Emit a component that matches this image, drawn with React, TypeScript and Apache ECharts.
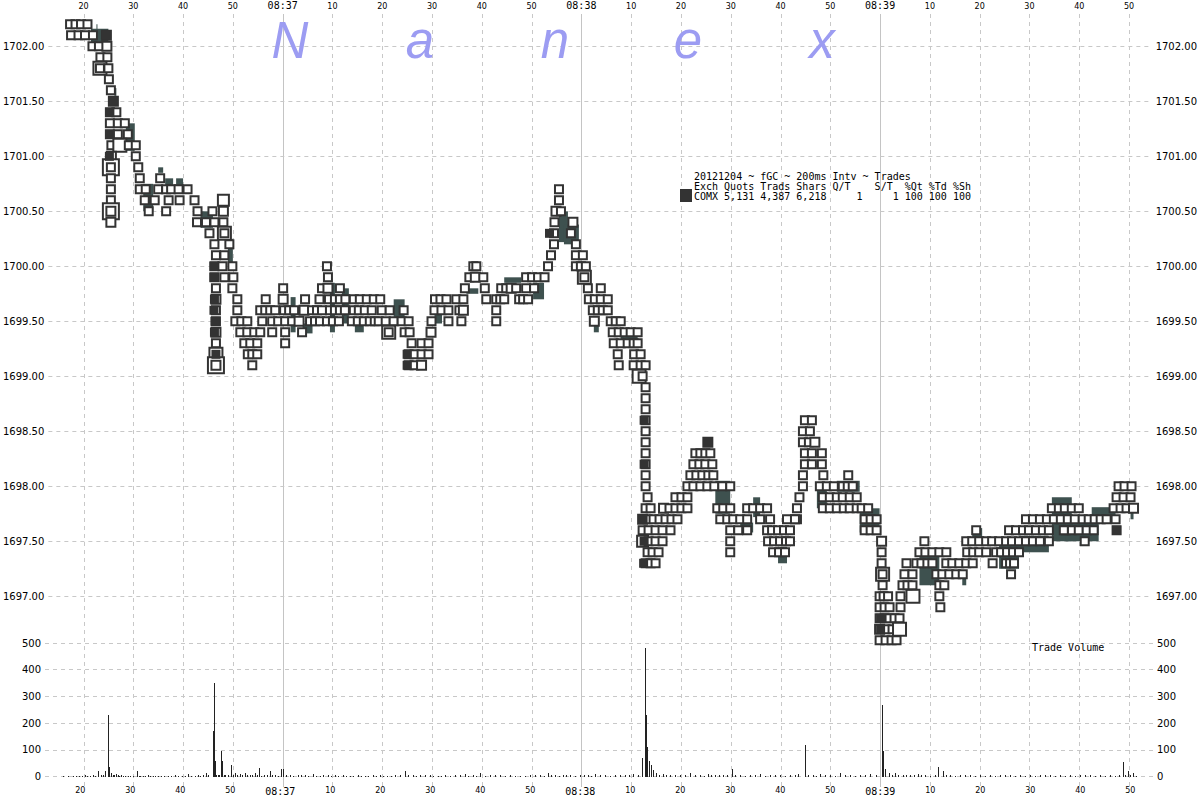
import React, { useEffect, useRef } from "react";
import * as echarts from "echarts";

// ---- axis ranges (seconds since 08:36:00, price, volume) ----
const X_MIN = 12.94;
const X_MAX = 234.54;
const P_MIN = 1695.266;
const P_MAX = 1702.294;

const timeTicks = [20, 30, 40, 50, 60, 70, 80, 90, 100, 110, 120, 130, 140, 150, 160, 170, 180, 190, 200, 210, 220, 230];
const priceTicks = [1697, 1697.5, 1698, 1698.5, 1699, 1699.5, 1700, 1700.5, 1701, 1701.5, 1702];

// ---- trades: [seconds, price, contracts] ----
const trades: [number, number, number][] = [
  [17.3, 1702.2, 1], [18.4, 1702.2, 1], [19.5, 1702.2, 1], [20.8, 1702.2, 1],
  [17.5, 1702.1, 1], [19.0, 1702.1, 1], [20.3, 1702.1, 1], [21.9, 1702.1, 1], [24.6, 1702.1, 2],
  [21.8, 1702.0, 1], [23.1, 1702.0, 1], [24.7, 1702.0, 2],
  [23.4, 1701.9, 1], [24.8, 1701.9, 1],
  [23.3, 1701.8, 6], [23.3, 1701.8, 1], [25.0, 1701.8, 1],
  [25.1, 1701.7, 1], [25.5, 1701.6, 1], [26.0, 1701.5, 2],
  [25.3, 1701.4, 1], [26.6, 1701.4, 1],
  [25.3, 1701.3, 1], [26.9, 1701.3, 1], [28.3, 1701.3, 1],
  [25.3, 1701.2, 1], [26.9, 1701.2, 1], [28.9, 1701.2, 1],
  [25.6, 1701.1, 1], [27.3, 1701.1, 8], [29.1, 1701.1, 1], [30.5, 1701.1, 1],
  [25.6, 1701.0, 2], [30.5, 1701.0, 1],
  [25.5, 1700.9, 10], [25.5, 1700.9, 1], [31.0, 1700.9, 1],
  [25.5, 1700.8, 1], [31.3, 1700.8, 1], [35.4, 1700.8, 1],
  [25.5, 1700.7, 1], [31.3, 1700.7, 1], [32.5, 1700.7, 1], [35.0, 1700.7, 1], [36.6, 1700.7, 1], [37.6, 1700.7, 1], [39.1, 1700.7, 1], [40.9, 1700.7, 1],
  [25.5, 1700.6, 1], [32.3, 1700.6, 1], [34.3, 1700.6, 1], [37.1, 1700.6, 1], [39.3, 1700.6, 1], [42.3, 1700.6, 1], [48.1, 1700.6, 3],
  [25.5, 1700.5, 10], [25.5, 1700.5, 2], [33.1, 1700.5, 1], [36.6, 1700.5, 1], [42.9, 1700.5, 1], [45.9, 1700.5, 1], [48.1, 1700.5, 2],
  [25.5, 1700.4, 2], [42.8, 1700.4, 1], [44.6, 1700.4, 1], [46.3, 1700.4, 1], [48.1, 1700.4, 1],
  [45.3, 1700.3, 1], [48.3, 1700.3, 6], [48.3, 1700.3, 1],
  [46.3, 1700.2, 1], [49.3, 1700.2, 1],
  [46.6, 1700.1, 1], [48.3, 1700.1, 1],
  [46.3, 1700.0, 1], [47.9, 1700.0, 1], [49.9, 1700.0, 1],
  [46.3, 1699.9, 1], [48.3, 1699.9, 1], [50.1, 1699.9, 1],
  [46.6, 1699.8, 1], [49.9, 1699.8, 1],
  [46.6, 1699.7, 2], [50.9, 1699.7, 1],
  [46.6, 1699.6, 1], [50.9, 1699.6, 1],
  [46.6, 1699.5, 1],
  [46.6, 1699.4, 2], [46.6, 1699.3, 1],
  [46.6, 1699.2, 8], [46.6, 1699.1, 12], [46.6, 1699.1, 2],
  // 08:36:50 - 08:37:35
  [68.9, 1700.0, 1], [69.1, 1699.9, 1],
  [60.1, 1699.8, 1], [67.9, 1699.8, 1], [69.1, 1699.8, 2], [71.5, 1699.8, 1],
  [56.6, 1699.7, 1], [60.1, 1699.7, 2], [64.5, 1699.7, 1], [67.4, 1699.7, 1], [69.3, 1699.7, 1], [70.5, 1699.7, 1], [71.5, 1699.7, 1], [72.6, 1699.7, 1], [74.3, 1699.7, 1], [75.5, 1699.7, 1], [76.9, 1699.7, 1], [78.3, 1699.7, 1], [79.6, 1699.7, 1], [90.6, 1699.7, 1], [91.7, 1699.7, 1], [92.9, 1699.7, 1],
  [55.5, 1699.6, 1], [56.5, 1699.6, 1], [57.5, 1699.6, 1], [58.5, 1699.6, 1], [60.3, 1699.6, 1], [61.3, 1699.6, 1], [62.3, 1699.6, 1], [64.3, 1699.6, 2], [65.9, 1699.6, 1], [66.9, 1699.6, 1], [67.9, 1699.6, 1], [69.5, 1699.6, 1], [70.5, 1699.6, 1], [71.5, 1699.6, 1], [72.5, 1699.6, 1], [74.3, 1699.6, 1], [75.3, 1699.6, 1], [76.5, 1699.6, 1], [77.9, 1699.6, 1], [79.9, 1699.6, 1], [81.5, 1699.6, 1], [84.3, 1699.6, 1], [90.5, 1699.6, 1], [91.9, 1699.6, 1], [93.3, 1699.6, 1],
  [50.5, 1699.5, 1], [51.7, 1699.5, 1], [52.9, 1699.5, 1], [55.9, 1699.5, 1], [57.9, 1699.5, 1], [59.1, 1699.5, 1], [60.5, 1699.5, 1], [61.9, 1699.5, 1], [63.3, 1699.5, 2], [65.5, 1699.5, 1], [66.5, 1699.5, 1], [67.5, 1699.5, 1], [68.9, 1699.5, 1], [70.1, 1699.5, 1], [71.3, 1699.5, 1], [73.9, 1699.5, 1], [75.1, 1699.5, 1], [76.3, 1699.5, 1], [77.5, 1699.5, 1], [78.5, 1699.5, 1], [79.3, 1699.5, 1], [80.7, 1699.5, 1], [82.3, 1699.5, 1], [83.9, 1699.5, 1], [85.3, 1699.5, 1], [89.9, 1699.5, 1], [93.3, 1699.5, 1],
  [51.5, 1699.4, 1], [52.9, 1699.4, 1], [54.3, 1699.4, 1], [55.5, 1699.4, 1], [57.9, 1699.4, 1], [60.5, 1699.4, 1], [63.9, 1699.4, 1], [81.3, 1699.4, 6], [81.3, 1699.4, 1], [84.5, 1699.4, 1], [85.5, 1699.4, 1], [89.8, 1699.4, 2],
  [52.3, 1699.3, 1], [53.5, 1699.3, 1], [54.9, 1699.3, 1], [60.5, 1699.3, 1], [85.9, 1699.3, 1], [87.9, 1699.3, 1], [89.3, 1699.3, 1],
  [53.0, 1699.2, 1], [53.9, 1699.2, 1], [54.9, 1699.2, 1], [85.3, 1699.2, 1], [86.5, 1699.2, 1], [87.9, 1699.2, 1], [89.3, 1699.2, 1],
  [53.9, 1699.1, 1], [85.3, 1699.1, 1], [86.5, 1699.1, 1], [87.9, 1699.1, 2],
  // 08:37:35 - 08:38:13
  [115.5, 1700.7, 1], [115.5, 1700.6, 1], [114.9, 1700.5, 2], [115.9, 1700.5, 1],
  [114.6, 1700.4, 1], [118.3, 1700.4, 2], [114.5, 1700.3, 1], [117.9, 1700.3, 1],
  [114.5, 1700.2, 1], [118.9, 1700.2, 1], [113.9, 1700.1, 1], [118.9, 1700.1, 1], [120.3, 1700.1, 1],
  [98.3, 1700.0, 1], [98.9, 1700.0, 1], [113.3, 1700.0, 1], [118.9, 1700.0, 1], [119.9, 1700.0, 1], [120.9, 1700.0, 1],
  [97.5, 1699.9, 1], [98.7, 1699.9, 2], [100.3, 1699.9, 1], [108.9, 1699.9, 1], [110.1, 1699.9, 1], [111.3, 1699.9, 1], [112.6, 1699.9, 1], [120.6, 1699.9, 6], [120.6, 1699.9, 1],
  [96.6, 1699.8, 1], [100.6, 1699.8, 1], [103.9, 1699.8, 1], [104.9, 1699.8, 1], [105.9, 1699.8, 2], [106.9, 1699.8, 1], [108.9, 1699.8, 1], [110.5, 1699.8, 1], [121.3, 1699.8, 1], [123.9, 1699.8, 1],
  [94.9, 1699.7, 1], [96.3, 1699.7, 1], [100.9, 1699.7, 1], [102.9, 1699.7, 1], [103.7, 1699.7, 1], [104.5, 1699.7, 1], [107.5, 1699.7, 1], [108.3, 1699.7, 1], [109.3, 1699.7, 1], [121.5, 1699.7, 1], [122.7, 1699.7, 1], [123.9, 1699.7, 1], [125.3, 1699.7, 1],
  [95.5, 1699.6, 1], [96.3, 1699.6, 2], [102.9, 1699.6, 1], [122.3, 1699.6, 1], [123.3, 1699.6, 1], [124.3, 1699.6, 1], [125.3, 1699.6, 1],
  [95.9, 1699.5, 1], [102.9, 1699.5, 1], [122.6, 1699.5, 2], [125.9, 1699.5, 1], [126.9, 1699.5, 1], [127.9, 1699.5, 1],
  [126.3, 1699.4, 1], [127.5, 1699.4, 1], [128.7, 1699.4, 1], [129.9, 1699.4, 1], [131.3, 1699.4, 1],
  [126.5, 1699.3, 1], [127.9, 1699.3, 1], [129.3, 1699.3, 1], [130.5, 1699.3, 1], [131.3, 1699.3, 1],
  [127.3, 1699.2, 1], [130.6, 1699.2, 1], [131.9, 1699.2, 1],
  [127.5, 1699.1, 1], [130.5, 1699.1, 1], [131.9, 1699.1, 1], [132.9, 1699.1, 1],
  [131.6, 1699.0, 8], [132.3, 1699.0, 1],
  [132.9, 1698.9, 1], [132.9, 1698.8, 1], [132.9, 1698.7, 1], [132.9, 1698.6, 1], [132.9, 1698.5, 1],
  [132.9, 1698.4, 1], [132.9, 1698.3, 1], [132.9, 1698.2, 1], [132.9, 1698.1, 1], [132.9, 1698.0, 1],
  // 08:38:13 - 08:38:58
  [133.3, 1697.9, 1], [138.9, 1697.9, 1], [140.1, 1697.9, 1], [141.3, 1697.9, 1],
  [132.9, 1697.8, 1], [133.9, 1697.8, 1], [136.5, 1697.8, 2], [137.7, 1697.8, 1], [138.9, 1697.8, 1], [140.1, 1697.8, 1], [141.3, 1697.8, 1], [147.3, 1697.8, 1], [148.5, 1697.8, 1], [149.9, 1697.8, 1], [153.3, 1697.8, 1], [154.5, 1697.8, 1], [155.9, 1697.8, 1], [157.3, 1697.8, 1], [168.5, 1697.8, 1], [169.9, 1697.8, 1], [171.3, 1697.8, 1], [172.7, 1697.8, 1], [173.9, 1697.8, 1],
  [132.3, 1697.7, 2], [133.3, 1697.7, 1], [134.5, 1697.7, 1], [135.7, 1697.7, 1], [136.9, 1697.7, 1], [138.1, 1697.7, 1], [139.3, 1697.7, 1], [147.9, 1697.7, 1], [149.3, 1697.7, 1], [150.5, 1697.7, 1], [151.9, 1697.7, 1], [153.3, 1697.7, 1], [155.9, 1697.7, 1], [157.9, 1697.7, 1], [161.3, 1697.7, 1], [163.3, 1697.7, 1],
  [132.3, 1697.6, 1], [133.5, 1697.6, 1], [134.9, 1697.6, 1], [136.3, 1697.6, 1], [137.9, 1697.6, 1], [149.9, 1697.6, 1], [151.5, 1697.6, 1], [153.3, 1697.6, 1], [157.3, 1697.6, 1], [158.3, 1697.6, 1], [159.5, 1697.6, 1], [160.7, 1697.6, 1], [161.9, 1697.6, 1],
  [132.3, 1697.5, 3], [133.5, 1697.5, 1], [134.9, 1697.5, 1], [136.3, 1697.5, 1], [149.9, 1697.5, 1], [157.5, 1697.5, 1], [158.7, 1697.5, 1], [159.9, 1697.5, 1], [161.1, 1697.5, 1], [161.9, 1697.5, 1],
  [133.3, 1697.4, 1], [134.3, 1697.4, 1], [135.5, 1697.4, 1], [149.9, 1697.4, 1], [158.5, 1697.4, 1], [159.7, 1697.4, 1], [160.9, 1697.4, 1],
  [132.9, 1697.3, 1], [133.9, 1697.3, 1], [134.9, 1697.3, 1],
  [145.4, 1698.4, 2], [142.9, 1698.3, 1], [143.9, 1698.3, 1], [144.9, 1698.3, 1], [145.9, 1698.3, 1],
  [142.5, 1698.2, 1], [143.7, 1698.2, 1], [144.9, 1698.2, 1], [146.3, 1698.2, 1],
  [141.9, 1698.1, 1], [143.1, 1698.1, 1], [144.3, 1698.1, 1], [145.5, 1698.1, 1], [146.5, 1698.1, 1],
  [141.3, 1698.0, 1], [142.5, 1698.0, 1], [143.9, 1698.0, 1], [145.3, 1698.0, 1], [146.7, 1698.0, 1], [148.3, 1698.0, 1], [149.9, 1698.0, 1],
  [164.9, 1698.6, 1], [166.3, 1698.6, 1], [164.5, 1698.5, 1], [165.9, 1698.5, 1],
  [164.5, 1698.4, 1], [165.7, 1698.4, 1], [166.9, 1698.4, 2],
  [164.9, 1698.3, 1], [166.3, 1698.3, 1], [168.3, 1698.3, 1],
  [164.9, 1698.2, 1], [166.3, 1698.2, 1], [168.3, 1698.2, 1],
  [164.5, 1698.1, 1], [168.6, 1698.1, 1],
  [164.5, 1698.0, 1], [167.9, 1698.0, 1], [169.3, 1698.0, 1], [170.7, 1698.0, 1],
  [163.8, 1697.9, 1], [168.5, 1697.9, 1], [169.9, 1697.9, 1], [171.3, 1697.9, 1],
  [163.3, 1697.8, 1], [162.9, 1697.7, 1],
  // 08:38:52 - 08:39:20
  [173.6, 1698.1, 1], [172.5, 1698.0, 1], [173.5, 1698.0, 1], [174.5, 1698.0, 1],
  [172.5, 1697.9, 1], [173.9, 1697.9, 1], [175.3, 1697.9, 1],
  [175.3, 1697.8, 1], [176.3, 1697.8, 1], [177.6, 1697.8, 1],
  [176.9, 1697.7, 1], [178.1, 1697.7, 1], [179.3, 1697.7, 1],
  [176.9, 1697.6, 1], [178.1, 1697.6, 1], [179.3, 1697.6, 1],
  [180.3, 1697.5, 2], [180.3, 1697.4, 1], [180.3, 1697.3, 1], [180.5, 1697.2, 6], [180.5, 1697.2, 1], [180.5, 1697.1, 1],
  [179.9, 1697.0, 1], [180.7, 1697.0, 1], [181.6, 1697.0, 1],
  [179.9, 1696.9, 1], [180.9, 1696.9, 1], [181.9, 1696.9, 1],
  [179.9, 1696.8, 1], [180.9, 1696.8, 1], [181.9, 1696.8, 1], [182.9, 1696.8, 1], [183.9, 1696.8, 1],
  [179.9, 1696.7, 2], [181.1, 1696.7, 1], [182.5, 1696.7, 1], [183.9, 1696.7, 5],
  [179.9, 1696.6, 1], [181.1, 1696.6, 1], [182.3, 1696.6, 1], [183.3, 1696.6, 1],
  [184.1, 1696.9, 1], [184.1, 1697.0, 1], [186.6, 1697.0, 6],
  [184.5, 1697.1, 1], [185.5, 1697.1, 1], [186.5, 1697.1, 1],
  [184.9, 1697.2, 1], [186.5, 1697.2, 1], [191.3, 1697.2, 1], [192.5, 1697.2, 1], [193.9, 1697.2, 1], [195.3, 1697.2, 1], [196.6, 1697.2, 1], [206.3, 1697.2, 1],
  [185.3, 1697.3, 1], [187.3, 1697.3, 1], [188.3, 1697.3, 1], [189.5, 1697.3, 1], [190.5, 1697.3, 1], [193.3, 1697.3, 1], [194.5, 1697.3, 1], [195.9, 1697.3, 1], [197.3, 1697.3, 1], [198.6, 1697.3, 1], [202.6, 1697.3, 1], [205.3, 1697.3, 1], [206.1, 1697.3, 1], [206.9, 1697.3, 1],
  [187.9, 1697.4, 1], [189.1, 1697.4, 1], [190.5, 1697.4, 1], [191.9, 1697.4, 1], [193.3, 1697.4, 1], [197.5, 1697.4, 1], [198.7, 1697.4, 1], [199.9, 1697.4, 1], [201.3, 1697.4, 1], [203.3, 1697.4, 1], [204.3, 1697.4, 1], [205.5, 1697.4, 1], [206.7, 1697.4, 1], [207.9, 1697.4, 1],
  [188.9, 1697.5, 1], [197.3, 1697.5, 1], [198.5, 1697.5, 1], [199.9, 1697.5, 1], [201.3, 1697.5, 1], [202.5, 1697.5, 1], [203.9, 1697.5, 1], [205.3, 1697.5, 1], [206.5, 1697.5, 1], [207.9, 1697.5, 1], [209.3, 1697.5, 1], [210.7, 1697.5, 1], [212.1, 1697.5, 1], [213.9, 1697.5, 1],
  [199.3, 1697.6, 1], [205.9, 1697.6, 1], [207.3, 1697.6, 1], [208.7, 1697.6, 1], [209.9, 1697.6, 1], [211.3, 1697.6, 1], [212.7, 1697.6, 1], [213.9, 1697.6, 1], [217.3, 1697.6, 1], [218.5, 1697.6, 1], [219.9, 1697.6, 1],
  [209.3, 1697.7, 1], [210.7, 1697.7, 1], [212.1, 1697.7, 1], [213.5, 1697.7, 1], [214.9, 1697.7, 1], [216.3, 1697.7, 1], [217.7, 1697.7, 1], [219.1, 1697.7, 1],
  [214.5, 1697.8, 1], [215.9, 1697.8, 1], [217.1, 1697.8, 1], [218.5, 1697.8, 1], [219.9, 1697.8, 1],
  [191.9, 1697.1, 1], [192.9, 1697.1, 1], [191.9, 1697.0, 1], [192.1, 1696.9, 1],
  // 08:39:35 - 08:39:51
  [227.9, 1698.0, 1], [229.1, 1698.0, 1], [230.5, 1698.0, 1],
  [227.5, 1697.9, 1], [228.9, 1697.9, 1], [230.3, 1697.9, 1],
  [226.9, 1697.8, 1], [228.3, 1697.8, 1], [229.5, 1697.8, 1], [230.9, 1697.8, 2],
  [220.7, 1697.7, 1], [221.9, 1697.7, 1], [223.1, 1697.7, 1], [224.3, 1697.7, 1], [225.5, 1697.7, 1], [227.3, 1697.7, 1],
  [216.9, 1697.6, 1], [221.5, 1697.6, 1], [222.9, 1697.6, 1], [227.5, 1697.6, 1],
  [221.1, 1697.5, 1],
];

// trades drawn as solid blocks (clustered prints): [seconds, price]
const blockTrades: [number, number][] = [
  [26.0, 1701.5], [25.3, 1701.4], [25.3, 1701.2], [24.6, 1702.1], [25.2, 1701.0],
  [46.2, 1700.0], [46.2, 1699.9], [46.3, 1699.7], [46.2, 1699.6], [46.4, 1699.5], [46.3, 1699.4],
  [46.6, 1699.2], [85.0, 1699.2], [85.0, 1699.1], [113.6, 1700.3], [145.4, 1698.4],
  [132.4, 1697.7], [132.6, 1697.5], [132.5, 1697.3], [132.6, 1698.6], [132.6, 1698.2],
  [180.1, 1696.7], [180.1, 1696.8], [227.5, 1697.6],
];

// bid/ask spread bands: [from s, to s, low price, high price]
const quoteBands: [number, number, number, number][] = [
  [21.5, 25.0, 1702.04, 1702.16], [22.6, 22.8, 1702.1, 1702.2], [26.2, 26.6, 1701.55, 1701.62],
  [28.5, 30.3, 1701.05, 1701.3], [35.0, 36.0, 1700.85, 1700.9], [36.4, 38.0, 1700.7, 1700.8],
  [38.6, 40.0, 1700.7, 1700.8], [32.0, 34.0, 1700.5, 1700.75], [43.5, 46.0, 1700.35, 1700.5],
  [49.0, 50.0, 1700.03, 1700.25], [61.6, 62.6, 1699.4, 1699.72], [64.0, 66.0, 1699.39, 1699.48],
  [69.5, 70.5, 1699.4, 1699.85], [71.9, 73.3, 1699.48, 1699.8], [74.5, 76.3, 1699.4, 1699.5],
  [82.3, 84.5, 1699.53, 1699.7], [90.5, 92.0, 1699.48, 1699.62], [104.5, 107.9, 1699.85, 1699.9],
  [110.3, 112.5, 1699.7, 1699.85], [115.5, 117.3, 1700.22, 1700.5], [116.5, 119.5, 1700.2, 1700.38],
  [122.5, 123.5, 1699.4, 1699.5], [127.9, 131.3, 1699.27, 1699.4], [96.9, 99.3, 1699.75, 1699.8],
  [146.9, 149.9, 1697.75, 1698.05], [151.9, 154.5, 1697.58, 1697.67], [154.5, 155.9, 1697.72, 1697.9],
  [159.5, 161.3, 1697.3, 1697.45], [167.3, 169.3, 1697.8, 1698.0], [171.3, 175.9, 1697.95, 1698.05],
  [175.9, 179.9, 1697.58, 1697.8], [187.9, 191.9, 1697.1, 1697.43], [196.5, 197.3, 1697.1, 1697.22],
  [198.5, 200.5, 1697.51, 1697.62], [203.9, 207.9, 1697.25, 1697.47], [207.9, 213.9, 1697.4, 1697.55],
  [214.5, 218.5, 1697.5, 1697.9], [217.3, 223.9, 1697.5, 1697.73], [222.5, 227.3, 1697.7, 1697.81],
  [230.3, 230.9, 1697.7, 1697.8],
];

// ---- trade volume per 200ms interval ----
const volSec = [
  17.5, 18.6, 19.7, 20.9, 21.9, 22.6, 23.6, 24.1, 25.0, 25.6, 25.8, 26.1, 26.5, 27.1, 27.5, 28.1, 29.0, 30.0,
  31.3, 32.0, 33.5, 35.0, 36.2, 37.5, 39.0, 40.4, 41.6, 43.0, 44.5, 45.1, 46.6, 46.8, 47.0, 47.5, 48.2, 48.4,
  49.0, 50.2, 50.9, 51.9, 52.9, 53.9, 54.9, 55.8, 56.8, 57.9, 59.0, 60.1, 60.6, 62.0, 63.5, 65.0, 66.5, 68.0,
  69.5, 71.0, 72.5, 74.0, 75.5, 77.0, 78.5, 80.0, 81.3, 83.0, 85.0, 86.5, 88.0, 90.0, 91.5, 93.0, 95.0, 97.0,
  98.5, 100.0, 102.0, 104.0, 106.0, 108.0, 110.0, 112.0, 113.5, 115.0, 116.5, 118.0, 120.0, 121.5, 123.0, 125.0,
  127.0, 129.0, 130.5, 132.3, 132.9, 133.1, 133.3, 133.7, 134.1, 134.5, 135.2, 136.5, 138.0, 140.0, 142.0, 144.0,
  145.5, 147.0, 148.5, 150.3, 152.0, 154.0, 156.0, 158.0, 160.0, 162.0, 163.5, 164.9, 166.5, 168.0, 170.0, 172.0,
  174.0, 176.0, 178.0, 180.3, 180.5, 181.0, 181.8, 183.0, 184.5, 186.0, 187.5, 189.0, 191.5, 192.5, 194.0, 196.0,
  198.0, 200.0, 202.0, 204.0, 206.0, 208.0, 210.0, 212.0, 214.0, 216.0, 218.0, 220.0, 222.0, 224.0, 226.0, 228.5,
  229.5, 230.5,
];
const volValues = [
  3, 2, 4, 5, 3, 8, 20, 5, 20, 231, 35, 15, 8, 10, 6, 5, 4, 3,
  22, 4, 5, 3, 4, 2, 5, 3, 10, 4, 5, 15, 171, 352, 59, 5, 96, 59,
  8, 45, 12, 10, 15, 8, 12, 33, 6, 20, 8, 30, 30, 6, 8, 5, 10, 4,
  6, 5, 8, 4, 6, 3, 5, 7, 4, 6, 22, 8, 5, 6, 4, 8, 5, 10,
  6, 12, 5, 6, 8, 4, 6, 5, 15, 8, 6, 5, 8, 6, 10, 5,
  6, 8, 10, 70, 480, 230, 110, 60, 45, 25, 15, 10, 8, 6, 12, 8,
  10, 6, 8, 30, 6, 8, 10, 5, 8, 6, 10, 120, 8, 10, 6, 15,
  8, 6, 10, 270, 95, 30, 12, 15, 8, 6, 10, 8, 35, 20, 8, 6,
  5, 8, 6, 5, 8, 6, 5, 6, 8, 5, 6, 8, 5, 6, 8, 55,
  20, 12,
];
// small single-lot intervals between the larger prints
const volMinorSec = [
  16.5, 19.1, 20.4, 21.4, 23.0, 24.5, 26.8, 27.8, 28.6, 29.5, 30.6, 31.8, 32.6, 33.0, 34.0, 34.6, 35.6, 36.8,
  38.2, 39.6, 41.0, 42.2, 43.6, 44.0, 45.6, 47.2, 47.8, 48.8, 49.6, 50.5, 51.4, 52.4, 53.4, 54.4, 55.3, 56.2,
  57.3, 58.4, 59.6, 61.2, 62.6, 64.2, 65.6, 67.2, 68.6, 70.2, 71.6, 73.2, 74.6, 76.2, 77.6, 79.2, 80.6, 82.2,
  84.0, 85.6, 87.2, 89.0, 90.6, 92.2, 94.0, 96.0, 97.6, 99.2, 101.0, 103.0, 105.0, 107.0, 109.0, 111.0, 112.8,
  114.2, 115.8, 117.2, 119.0, 120.8, 122.2, 124.0, 126.0, 128.0, 129.8, 131.5, 135.8, 137.2, 139.0, 141.0, 143.0,
  144.8, 146.2, 147.8, 149.3, 151.0, 153.0, 155.0, 157.0, 159.0, 161.0, 163.0, 165.6, 167.2, 169.0, 171.0, 173.0,
  175.0, 177.0, 179.2, 182.4, 183.6, 185.2, 186.8, 188.2, 190.0, 191.0, 193.2, 195.0, 197.0, 199.0, 201.0, 203.0,
  205.0, 207.0, 209.0, 211.0, 213.0, 215.0, 217.0, 219.0, 221.0, 223.0, 225.0, 227.0, 227.8, 229.0, 230.0, 231.2,
];
const volMinorValues = [
  2, 2, 3, 2, 4, 6, 6, 4, 3, 3, 4, 3, 2, 3, 4, 3, 2, 3,
  3, 2, 3, 4, 5, 3, 6, 8, 6, 5, 6, 8, 6, 5, 8, 6, 5, 4,
  6, 5, 4, 5, 4, 5, 3, 4, 5, 4, 3, 4, 3, 4, 3, 4, 3, 4,
  5, 6, 4, 5, 4, 3, 4, 5, 4, 3, 4, 5, 4, 3, 4, 5, 4,
  6, 4, 5, 4, 5, 4, 5, 4, 5, 6, 8, 8, 6, 5, 6, 5,
  4, 6, 5, 6, 5, 4, 5, 4, 5, 4, 5, 6, 4, 5, 4, 5,
  4, 5, 6, 8, 6, 5, 6, 5, 4, 6, 5, 4, 5, 4, 3, 4,
  5, 4, 3, 4, 5, 4, 3, 4, 5, 4, 3, 4, 6, 8, 6, 3,
];

const legendLines = [
  "20121204 ~ fGC ~ 200ms Intv ~ Trades",
  "Exch Quots Trads Shars Q/T    S/T  %Qt %Td %Sh",
  "COMX 5,131 4,387 6,218     1     1 100 100 100",
];
const watermark = ["N", "a", "n", "e", "x"];
const watermarkX = [290, 420, 555, 688, 822];

const TRADE_BORDER = "#333333";
const BAND_COLOR = "#3e514f";
const GRID_COLOR = "#c8c8c8";
const LABEL_FONT = "DejaVu Sans";
const MONO_FONT = "DejaVu Sans Mono";

function tradeSymbolSize(qty: number): number {
  if (qty >= 10) return 16;
  if (qty >= 5) return 13;
  if (qty >= 3) return 11;
  if (qty >= 2) return 9;
  return 8;
}

function timeLabel(v: number): string {
  const s = Math.round(v);
  if (s % 60 === 0) {
    const m = 36 + s / 60;
    return "{m|08:" + String(m).padStart(2, "0") + "}";
  }
  return "{s|" + String(s % 60) + "}";
}

const timeLabelRich = {
  m: { fontFamily: MONO_FONT, fontSize: 10, color: "#000" },
  s: { fontFamily: LABEL_FONT, fontSize: 8, color: "#000" },
};

export default function App() {
  const ref = useRef<HTMLDivElement>(null);

  useEffect(() => {
    if (!ref.current) return;
    const chart = echarts.init(ref.current, undefined, { renderer: "svg" });

    const vGrid = timeTicks.map((t) => [t, P_MIN]);
    const hGrid = priceTicks.map((p) => [X_MIN, p]);
    const volData = [
      ...volMinorSec.map((t, i) => [t, volMinorValues[i]]),
      ...volSec.map((t, i) => [t, volValues[i]]),
    ];

    const option: any = {
      animation: false,
      backgroundColor: "#ffffff",
      grid: [
        { left: 45, right: 47, top: 14, bottom: 13 },
        { left: 45, right: 47, top: 643, bottom: 23.3 },
      ],
      xAxis: [
        {
          gridIndex: 0, type: "value", min: X_MIN, max: X_MAX, position: "top",
          axisLine: { show: false }, axisTick: { show: false, customValues: timeTicks }, splitLine: { show: false },
          axisLabel: { customValues: timeTicks, formatter: timeLabel, rich: timeLabelRich, margin: 4 },
        },
        {
          gridIndex: 1, type: "value", min: X_MIN, max: X_MAX, position: "bottom",
          axisLine: { show: false }, axisTick: { show: false, customValues: timeTicks }, splitLine: { show: false },
          axisLabel: { customValues: timeTicks, formatter: timeLabel, rich: timeLabelRich, margin: 10 },
        },
      ],
      yAxis: [
        {
          gridIndex: 0, type: "value", min: P_MIN, max: P_MAX, position: "left",
          axisLine: { show: false }, axisTick: { show: false, customValues: priceTicks }, splitLine: { show: false },
          axisLabel: { customValues: priceTicks, formatter: (v: number) => v.toFixed(2), color: "#000", fontFamily: LABEL_FONT, fontSize: 10, margin: 4 },
        },
        {
          gridIndex: 0, type: "value", min: P_MIN, max: P_MAX, position: "right",
          axisLine: { show: false }, axisTick: { show: false, customValues: priceTicks }, splitLine: { show: false },
          axisLabel: { customValues: priceTicks, formatter: (v: number) => v.toFixed(2), color: "#000", fontFamily: LABEL_FONT, fontSize: 10, margin: 4 },
        },
        {
          gridIndex: 1, type: "value", min: 0, max: 500, interval: 100, position: "left",
          axisLine: { show: false }, axisTick: { show: false },
          splitLine: { show: true, lineStyle: { color: GRID_COLOR, type: [4, 4], width: 1 } },
          axisLabel: { color: "#000", fontFamily: LABEL_FONT, fontSize: 10, margin: 4 },
        },
        {
          gridIndex: 1, type: "value", min: 0, max: 500, interval: 100, position: "right",
          axisLine: { show: false }, axisTick: { show: false }, splitLine: { show: false },
          axisLabel: { color: "#000", fontFamily: LABEL_FONT, fontSize: 10, margin: 4 },
        },
      ],
      series: [
        {
          type: "custom", name: "vgrid", xAxisIndex: 0, yAxisIndex: 0, z: 0, silent: true,
          data: vGrid, encode: { x: 0, y: 1 },
          renderItem: (params: any, api: any) => {
            const x = Math.round(api.coord([api.value(0), P_MIN])[0]) + 0.5;
            const cs = params.coordSys;
            const minute = Math.round(api.value(0)) % 60 === 0;
            return {
              type: "line",
              shape: { x1: x, y1: cs.y, x2: x, y2: cs.y + cs.height },
              style: { stroke: minute ? "#c4c4c4" : GRID_COLOR, lineWidth: 1, lineDash: minute ? null : [4, 4] },
            };
          },
        },
        {
          type: "custom", name: "hgrid", xAxisIndex: 0, yAxisIndex: 0, z: 0, silent: true,
          data: hGrid, encode: { x: 0, y: 1 },
          renderItem: (params: any, api: any) => {
            const y = Math.round(api.coord([X_MIN, api.value(1)])[1]) + 0.5;
            const cs = params.coordSys;
            return {
              type: "line",
              shape: { x1: cs.x, y1: y, x2: cs.x + cs.width, y2: y },
              style: { stroke: GRID_COLOR, lineWidth: 1, lineDash: [4, 4] },
            };
          },
        },
        {
          type: "custom", name: "quotes", xAxisIndex: 0, yAxisIndex: 0, z: 2, silent: true,
          data: quoteBands, encode: { x: [0, 1], y: [2, 3] },
          renderItem: (params: any, api: any) => {
            const a = api.coord([api.value(0), api.value(3)]);
            const b = api.coord([api.value(1), api.value(2)]);
            return {
              type: "rect",
              shape: { x: a[0], y: a[1], width: Math.max(1, b[0] - a[0]), height: Math.max(1, b[1] - a[1]) },
              style: { fill: BAND_COLOR },
            };
          },
        },
        {
          type: "scatter", name: "trades", xAxisIndex: 0, yAxisIndex: 0, z: 3, silent: true,
          symbol: "rect",
          symbolSize: (val: number[]) => tradeSymbolSize(val[2]),
          itemStyle: { color: "#ffffff", borderColor: TRADE_BORDER, borderWidth: 2, opacity: 1 },
          data: trades,
        },
        {
          type: "scatter", name: "blocks", xAxisIndex: 0, yAxisIndex: 0, z: 4, silent: true,
          symbol: "rect", symbolSize: 9,
          itemStyle: { color: TRADE_BORDER, opacity: 1 },
          data: blockTrades,
        },
        {
          type: "custom", name: "volume", xAxisIndex: 1, yAxisIndex: 2, z: 3, silent: true,
          data: volData, encode: { x: 0, y: 1 },
          renderItem: (params: any, api: any) => {
            const top = api.coord([api.value(0), api.value(1)]);
            const base = api.coord([api.value(0), 0]);
            const x = Math.round(top[0]) + 0.5;
            return {
              type: "line",
              shape: { x1: x, y1: Math.round(base[1]), x2: x, y2: Math.round(top[1]) },
              style: { stroke: "#222222", lineWidth: 1 },
            };
          },
        },
      ],
      graphic: [
        ...watermark.map((ch, i) => ({
          type: "text", x: watermarkX[i], y: 66, z: 1, silent: true,
          style: { text: ch, fill: "#9c9cf2", font: 'italic 51px "Liberation Sans"', textAlign: "center", textVerticalAlign: "bottom" },
        })),
        ...legendLines.map((line, i) => ({
          type: "text", x: 694, y: 176 + i * 10.3, z: 10, silent: true,
          style: { text: line, fill: "#000", font: '10px "DejaVu Sans Mono"', textVerticalAlign: "middle" },
        })),
        { type: "rect", shape: { x: 680, y: 189, width: 12, height: 13 }, style: { fill: "#333333" }, z: 10, silent: true },
        {
          type: "text", x: 1032, y: 647, z: 10, silent: true,
          style: { text: "Trade Volume", fill: "#000", font: '10px "DejaVu Sans Mono"', textVerticalAlign: "middle" },
        },
      ],
    };

    chart.setOption(option);
    return () => chart.dispose();
  }, []);

  return (
    <div
      ref={ref}
      style={{ position: "fixed", left: 0, top: 0, width: 1200, height: 800, background: "#fff" }}
    />
  );
}
